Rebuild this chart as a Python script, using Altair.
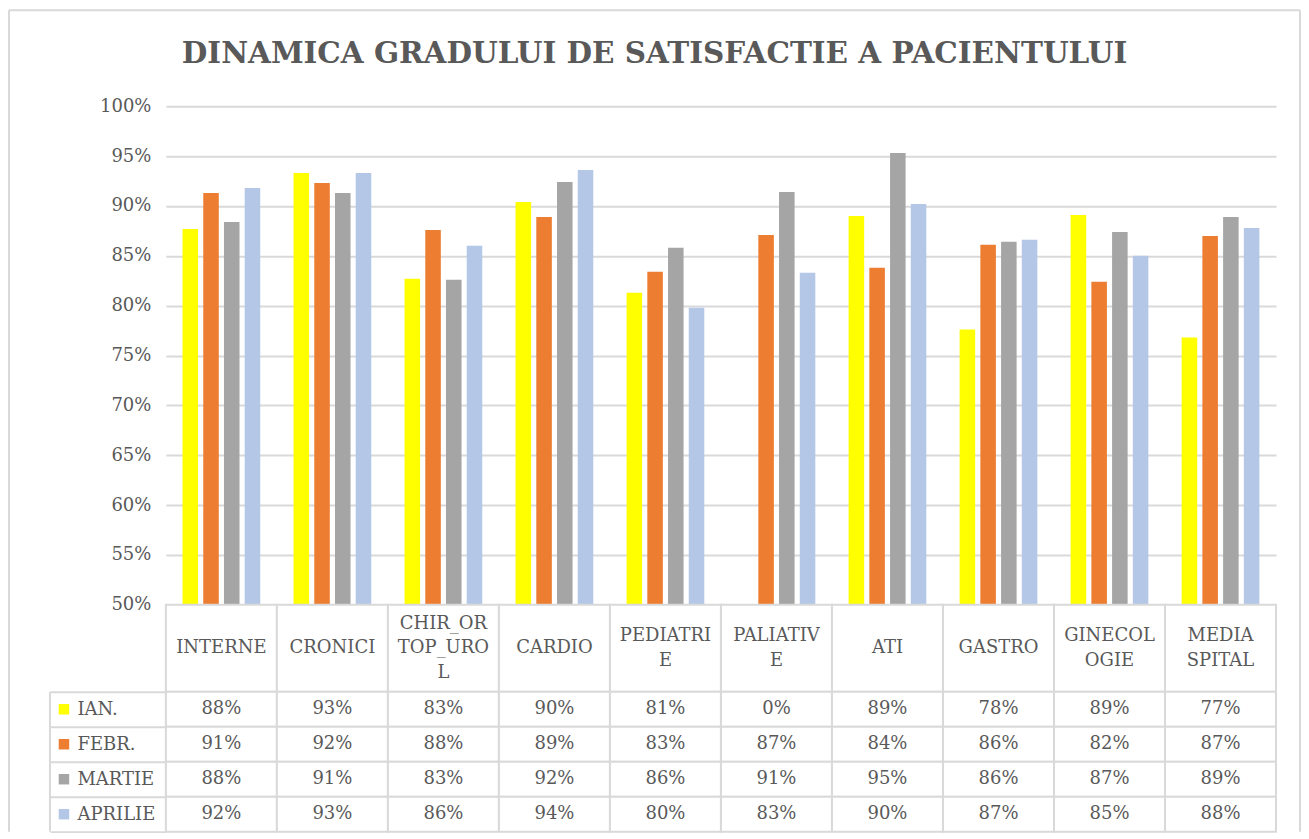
import altair as alt
import pandas as pd

categories = ["INTERNE", "CRONICI", "CHIR_ORTOP_UROL", "CARDIO", "PEDIATRIE",
              "PALIATIVE", "ATI", "GASTRO", "GINECOLOGIE", "MEDIA SPITAL"]
header_labels = ["INTERNE", "CRONICI", "CHIR_OR\nTOP_URO\nL", "CARDIO", "PEDIATRI\nE",
                 "PALIATIV\nE", "ATI", "GASTRO", "GINECOL\nOGIE", "MEDIA\nSPITAL"]
months = ["IAN.", "FEBR.", "MARTIE", "APRILIE"]
ian = [0.877, 0.933, 0.827, 0.904, 0.813, 0.0, 0.890, 0.776, 0.891, 0.768]
febr = [0.913, 0.923, 0.876, 0.889, 0.834, 0.871, 0.838, 0.861, 0.824, 0.870]
martie = [0.884, 0.913, 0.826, 0.924, 0.858, 0.914, 0.953, 0.864, 0.874, 0.889]
aprilie = [0.918, 0.933, 0.860, 0.936, 0.798, 0.833, 0.902, 0.866, 0.850, 0.878]
y_ticks = [0.50, 0.55, 0.60, 0.65, 0.70, 0.75, 0.80, 0.85, 0.90, 0.95, 1.00]
colors = ["#FFFF00", "#ED7D31", "#A5A5A5", "#B4C7E7"]

FONT = "DejaVu Serif"
FS = 18
TXT = "#595959"
GRID = "#d9d9d9"
LH = 24.5

rows = []
for m, series in zip(months, [ian, febr, martie, aprilie]):
    for c, v in zip(categories, series):
        rows.append({"category": c, "month": m, "value": v})
df = pd.DataFrame(rows)
hdr_df = pd.DataFrame({"category": categories, "label": header_labels})
hdr_df["nlines"] = hdr_df["label"].str.count("\n") + 1
one = pd.DataFrame({"a": [0]})

color_scale = alt.Scale(domain=months, range=colors)

bars = alt.Chart(df).mark_bar(clip=True).encode(
    x=alt.X("category:N", sort=categories,
            scale=alt.Scale(domain=categories, paddingInner=0.3, paddingOuter=0.15),
            axis=None),
    xOffset=alt.XOffset("month:N", sort=months,
                        scale=alt.Scale(domain=months, paddingInner=0.25, paddingOuter=0)),
    y=alt.Y("value:Q",
            scale=alt.Scale(domain=[0.5, 1.0], clamp=True, zero=False, nice=False),
            axis=alt.Axis(values=y_ticks, format=".0%", title=None, domain=False,
                          ticks=False, labelFont=FONT, labelFontSize=FS,
                          labelColor=TXT, labelPadding=15, gridColor=GRID,
                          gridWidth=2)),
    color=alt.Color("month:N", scale=color_scale, legend=None),
)
# outer chart frame (decoration: left, top, right edges)
frame_left = alt.Chart(one).mark_rule(color=GRID, strokeWidth=2).encode(
    x=alt.value(-157), y=alt.value(-96), y2=alt.value(726))
frame_top = alt.Chart(one).mark_rule(color=GRID, strokeWidth=2).encode(
    x=alt.value(-157), x2=alt.value(1135), y=alt.value(-96))
frame_right = alt.Chart(one).mark_rule(color=GRID, strokeWidth=2).encode(
    x=alt.value(1135), y=alt.value(-96), y2=alt.value(726))
top_panel = alt.layer(bars, frame_left, frame_top, frame_right).properties(
    width=1111, height=499)

hdr_x = alt.X("category:N", sort=categories,
              scale=alt.Scale(domain=categories, paddingInner=0, paddingOuter=0),
              axis=None)
hdr_cells = alt.Chart(hdr_df).mark_rect(fill="white", stroke=GRID, strokeWidth=2).encode(x=hdr_x)
hdr_layers = [hdr_cells]
for n in [1, 2, 3]:
    hdr_layers.append(
        alt.Chart(hdr_df).transform_filter(alt.datum.nlines == n).mark_text(
            lineBreak="\n", font=FONT, fontSize=FS, color=TXT, lineHeight=LH,
            dy=-(n - 1) * LH / 2
        ).encode(x=hdr_x, text="label:N")
    )
header = alt.layer(*hdr_layers).properties(width=1111, height=87)

tbl_y_scale = alt.Scale(domain=months, paddingInner=0, paddingOuter=0)
tbl_y = alt.Y("month:N", sort=months, scale=tbl_y_scale,
              axis=alt.Axis(title=None, domain=False, ticks=True, tickBand="extent",
                            tickSize=116, tickColor=GRID, tickWidth=2,
                            labelAlign="left", labelPadding=-27, labelFont=FONT,
                            labelFontSize=FS, labelColor=TXT, grid=False))
cells = alt.Chart(df).mark_rect(fill="white", stroke=GRID, strokeWidth=2).encode(
    x=hdr_x, y=tbl_y)
vals = alt.Chart(df).mark_text(font=FONT, fontSize=FS, color=TXT).encode(
    x=hdr_x, y=alt.Y("month:N", sort=months, scale=tbl_y_scale),
    text=alt.Text("value:Q", format=".0%"))
sw_df = pd.DataFrame({"month": months})
swatches = alt.Chart(sw_df).mark_square(size=110, opacity=1).encode(
    x=alt.value(-102),
    y=alt.Y("month:N", sort=months, scale=tbl_y_scale),
    color=alt.Color("month:N", scale=color_scale, legend=None))
left_rule = alt.Chart(one).mark_rule(color=GRID, strokeWidth=2).encode(
    x=alt.value(-116))
table = alt.layer(cells, vals, swatches, left_rule).properties(width=1111, height=140)

chart = alt.vconcat(top_panel, header, table, spacing=0, bounds="flush").resolve_scale(
    x="independent", y="independent"
).properties(
    title=alt.Title("DINAMICA GRADULUI DE SATISFACTIE  A PACIENTULUI", font=FONT,
                    fontSize=29.5, fontWeight="bold", color=TXT, anchor="middle",
                    offset=-60),
    padding={"left": 0, "top": 1, "right": 0, "bottom": 0},
    background="white",
).configure_view(stroke=None)

chart.save("out.html", embed_options={"renderer": "svg", "actions": False})
